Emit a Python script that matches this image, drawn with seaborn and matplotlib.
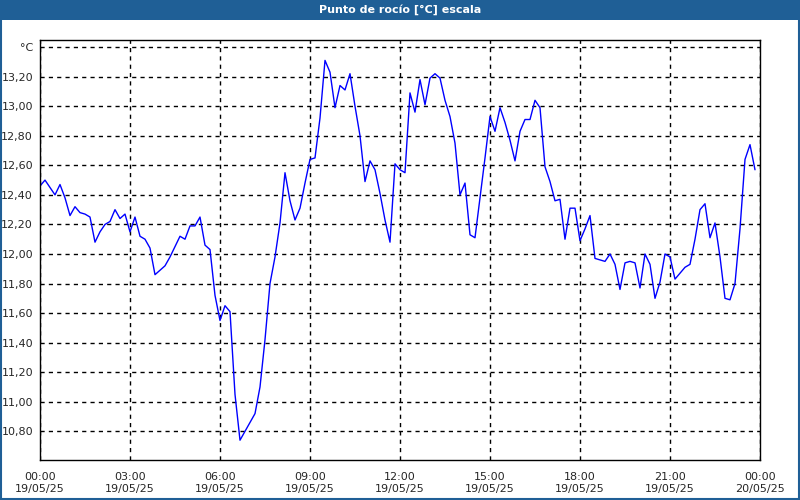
import numpy as np
import pandas as pd
import matplotlib
matplotlib.use('Agg')
import matplotlib.pyplot as plt
from matplotlib.patches import Rectangle
import seaborn as sns

# Punto de rocío, muestras cada 10 minutos del 19/05/25
dew_point = [
    12.46, 12.50, 12.45, 12.40, 12.47, 12.38, 12.26, 12.32, 12.28, 12.27,
    12.25, 12.08, 12.15, 12.20, 12.22, 12.30, 12.24, 12.27, 12.15, 12.25,
    12.12, 12.10, 12.04, 11.86, 11.89, 11.92, 11.98, 12.05, 12.12, 12.10,
    12.19, 12.19, 12.25, 12.06, 12.03, 11.72, 11.55, 11.65, 11.61, 11.05,
    10.74, 10.80, 10.86, 10.92, 11.10, 11.42, 11.80, 11.98, 12.21, 12.55,
    12.36, 12.23, 12.31, 12.48, 12.64, 12.65, 12.92, 13.31, 13.23, 12.99,
    13.14, 13.11, 13.22, 13.00, 12.80, 12.49, 12.63, 12.57, 12.41, 12.23,
    12.08, 12.61, 12.57, 12.55, 13.09, 12.96, 13.18, 13.01, 13.19, 13.22,
    13.19, 13.04, 12.93, 12.75, 12.40, 12.48, 12.13, 12.11, 12.38, 12.65,
    12.93, 12.83, 12.99, 12.89, 12.77, 12.63, 12.83, 12.91, 12.91, 13.04,
    12.99, 12.59, 12.49, 12.36, 12.37, 12.10, 12.31, 12.31, 12.09, 12.17,
    12.26, 11.97, 11.96, 11.95, 12.00, 11.93, 11.76, 11.94, 11.95, 11.94,
    11.77, 12.00, 11.93, 11.70, 11.81, 12.00, 11.98, 11.83, 11.87, 11.91,
    11.93, 12.10, 12.30, 12.34, 12.11, 12.21, 11.98, 11.70, 11.69, 11.80,
    12.17, 12.64, 12.74, 12.57,
]
hours = [i / 6 for i in range(len(dew_point))]

x_ticks = [0, 3, 6, 9, 12, 15, 18, 21, 24]
x_labels = ['00:00\n19/05/25', '03:00\n19/05/25', '06:00\n19/05/25',
            '09:00\n19/05/25', '12:00\n19/05/25', '15:00\n19/05/25',
            '18:00\n19/05/25', '21:00\n19/05/25', '00:00\n20/05/25']
y_ticks = [10.8, 11.0, 11.2, 11.4, 11.6, 11.8, 12.0, 12.2, 12.4, 12.6,
           12.8, 13.0, 13.2, 13.4]
y_labels = ['10,80', '11,00', '11,20', '11,40', '11,60', '11,80', '12,00',
            '12,20', '12,40', '12,60', '12,80', '13,00', '13,20', '°C']

df = pd.DataFrame({'Hora': hours, 'Punto de rocío': dew_point})

sns.set_style('white')
plt.rcParams['font.family'] = ['DejaVu Sans']

bar_color = '#1f5f96'

fig = plt.figure(figsize=(8, 5), dpi=100)
ax = fig.add_axes([0.05, 0.08, 0.90, 0.84])

sns.lineplot(data=df, x='Hora', y='Punto de rocío', color='#0000ff',
             linewidth=1, ax=ax)

ax.set_xlim(0, 24)
ax.set_ylim(10.606, 13.448)
ax.set_xticks(x_ticks)
ax.set_xticklabels(x_labels, fontsize=8)
ax.set_xticks(range(0, 25), minor=True)
ax.set_yticks(y_ticks)
ax.set_yticklabels(y_labels, fontsize=8)
ax.tick_params(axis='x', which='both', direction='out', length=3,
               width=1, color='black', pad=6)
ax.tick_params(axis='y', length=0, pad=5)
ax.set_xlabel('')
ax.set_ylabel('')

ax.grid(True, which='major', color='black', linestyle=(0, (3, 3)),
        linewidth=1)
for s in ax.spines.values():
    s.set_color('black')
    s.set_linewidth(1)

# Barra de título y borde de ventana
fig.patches.append(Rectangle((0, 0.96), 1, 0.04, transform=fig.transFigure,
                             facecolor=bar_color, edgecolor='none', zorder=0))
fig.patches.append(Rectangle((0.001, 0.002), 0.998, 0.996,
                             transform=fig.transFigure, facecolor='none',
                             edgecolor=bar_color, linewidth=1.5, zorder=0))
fig.text(0.5, 0.98, 'Punto de rocío [°C] escala', color='white',
         fontsize=8, fontweight='bold', ha='center', va='center')

fig.savefig('out.png', dpi=100)
